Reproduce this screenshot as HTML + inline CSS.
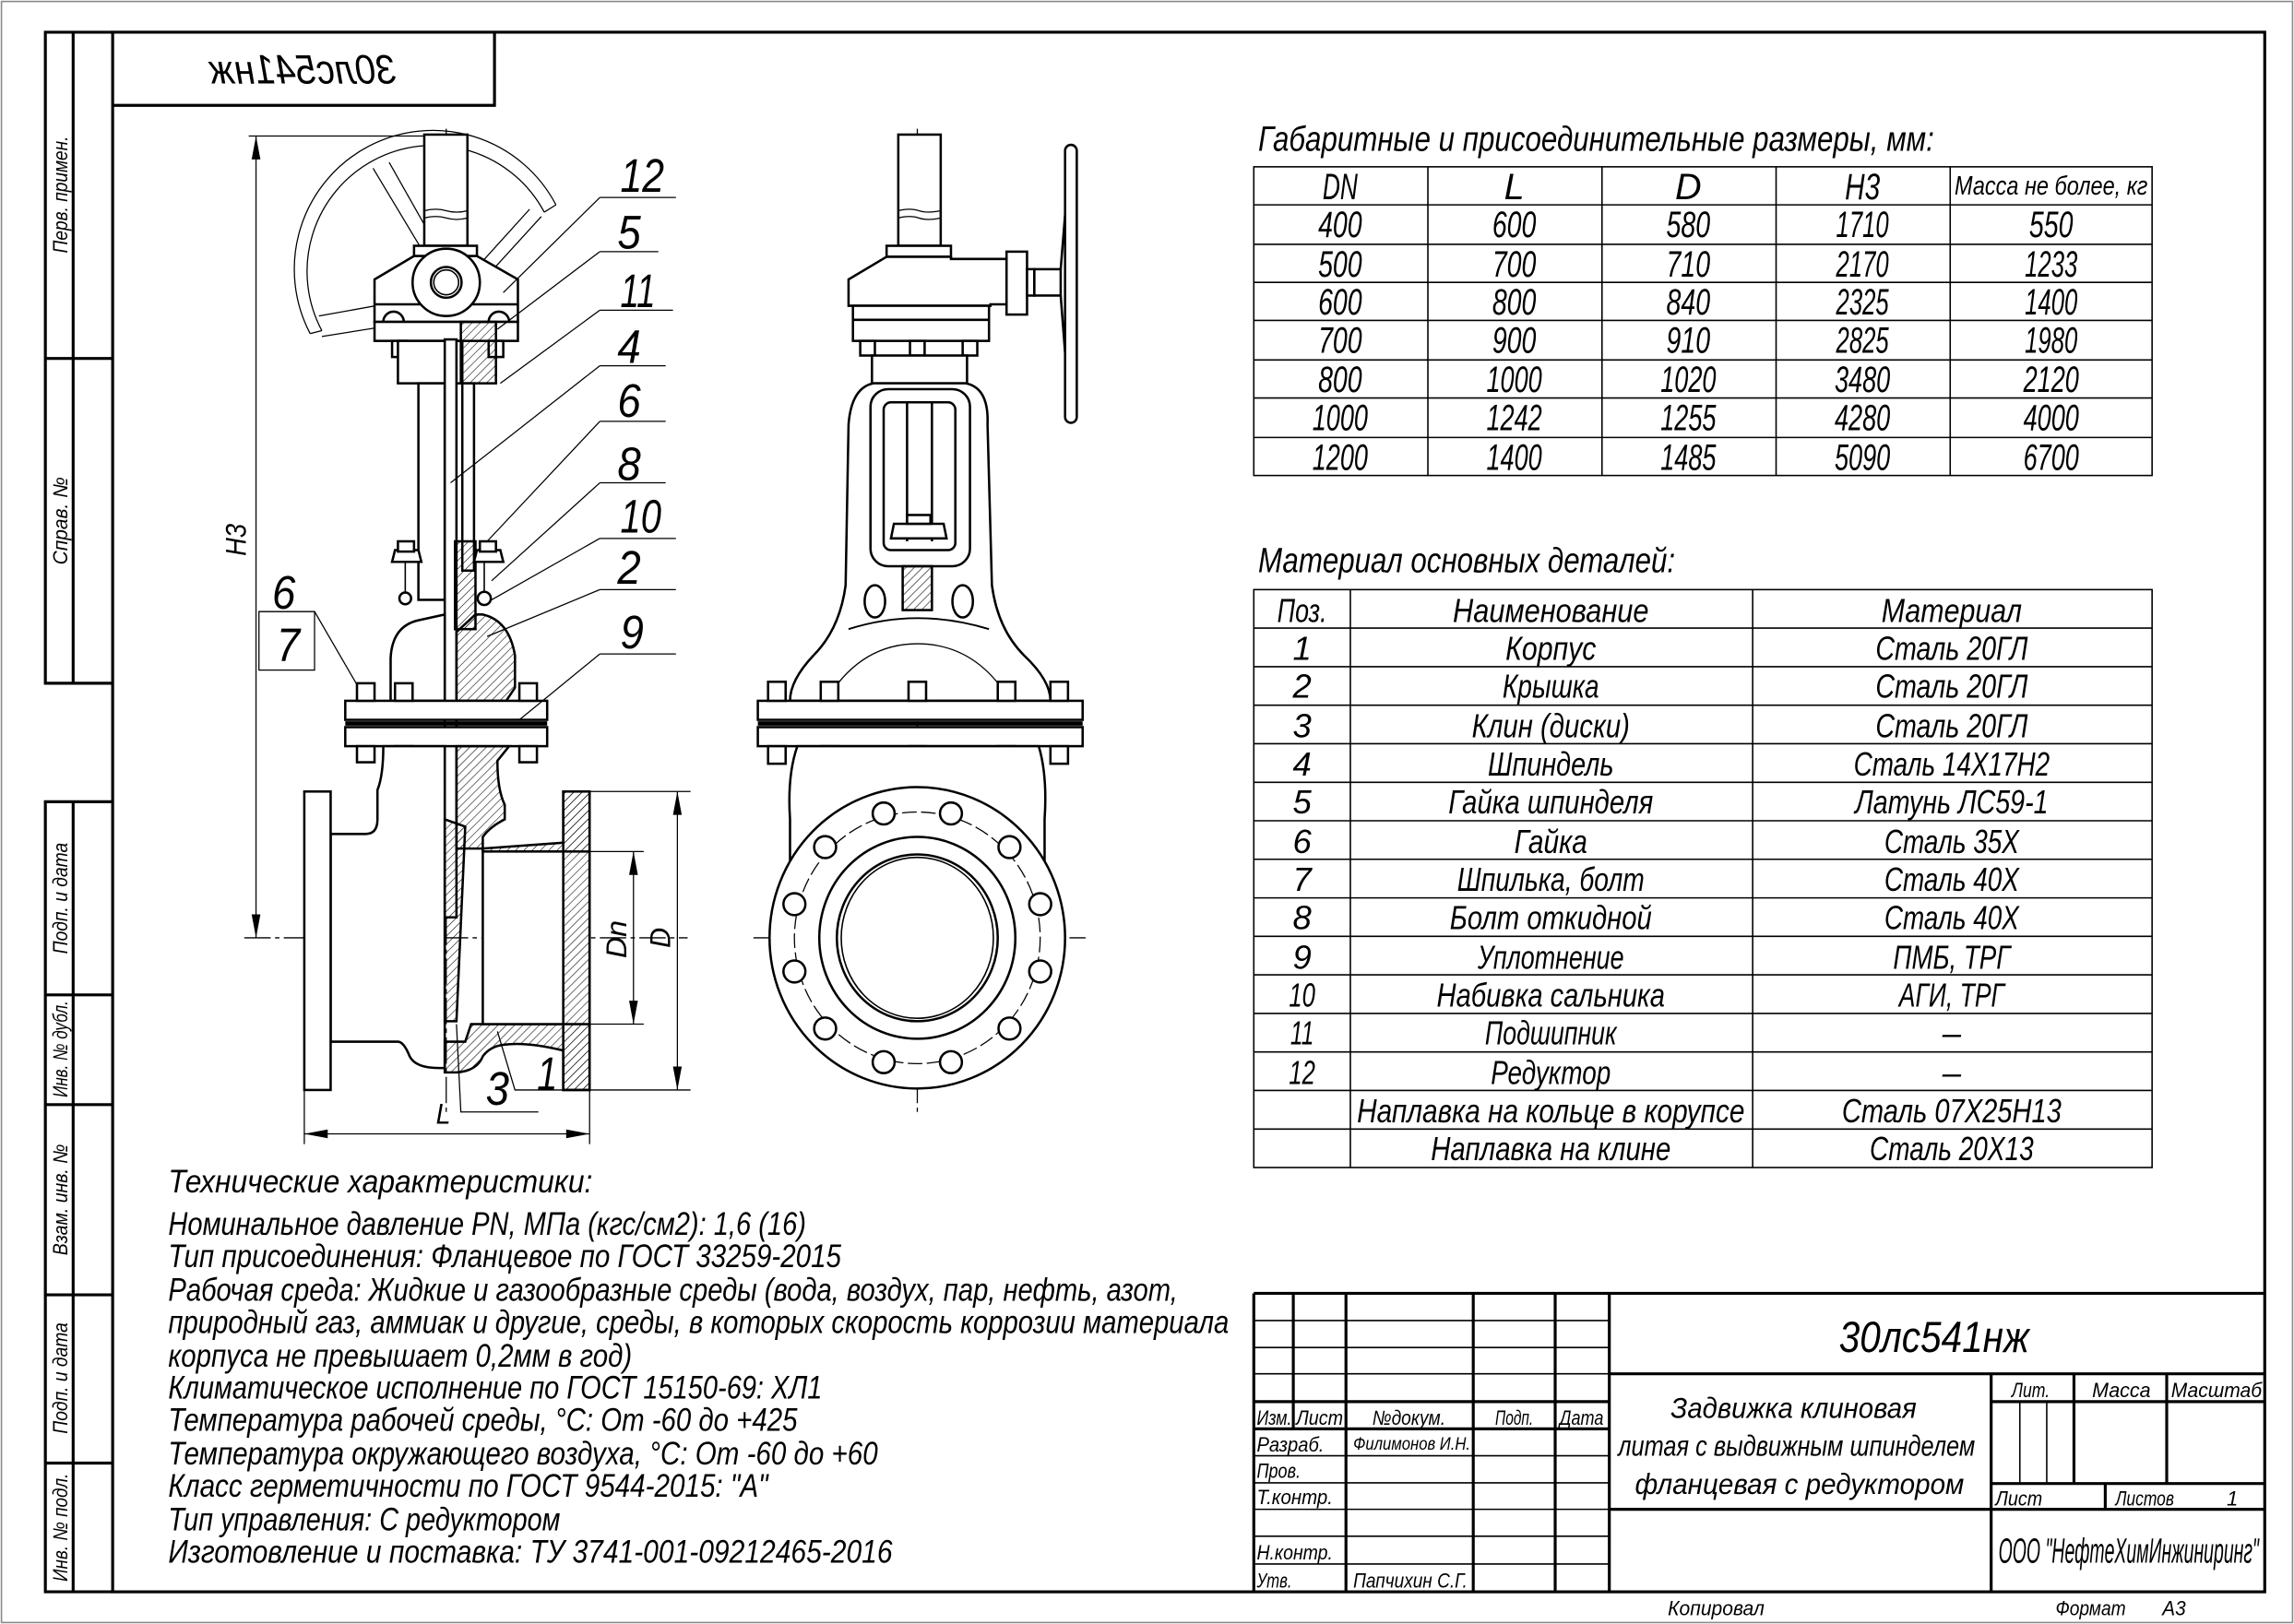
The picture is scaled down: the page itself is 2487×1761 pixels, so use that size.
<!DOCTYPE html>
<html><head><meta charset="utf-8"><style>html,body{margin:0;padding:0;background:#fff}svg{display:block}
text{font-family:"Liberation Sans Narrow","Liberation Sans","DejaVu Sans",sans-serif;font-style:italic;fill:#000}</style></head>
<body>
<svg width="2487" height="1761" viewBox="0 0 1568 1110" preserveAspectRatio="none" xmlns="http://www.w3.org/2000/svg">
<defs>
<pattern id="h" width="4" height="4" patternUnits="userSpaceOnUse" patternTransform="rotate(45)"><line x1="0" y1="0" x2="0" y2="4" stroke="#000" stroke-width="0.7"/></pattern>
<pattern id="h2" width="4" height="4" patternUnits="userSpaceOnUse" patternTransform="rotate(-45)"><line x1="0" y1="0" x2="0" y2="4" stroke="#000" stroke-width="0.7"/></pattern>
</defs>
<rect x="0" y="0" width="1568" height="1110" fill="#fff"/>
<rect x="1" y="1" width="1566" height="1108" fill="none" stroke="#888" stroke-width="1"/>
<!-- main frame -->
<g fill="none" stroke="#000" stroke-width="2">
<rect x="77" y="22" width="1471" height="1066"/>
<polyline points="77,22 31,22 31,467 77,467"/>
<line x1="50" y1="22" x2="50" y2="467"/>
<line x1="31" y1="245" x2="77" y2="245"/>
<polyline points="77,548 31,548 31,1088 77,1088"/>
<line x1="50" y1="548" x2="50" y2="1088"/>
<line x1="31" y1="680" x2="77" y2="680"/>
<line x1="31" y1="755" x2="77" y2="755"/>
<line x1="31" y1="885" x2="77" y2="885"/>
<line x1="31" y1="1000" x2="77" y2="1000"/>
<polyline points="77,72 338,72 338,22"/>
</g>
<g font-size="14">
<text transform="translate(46,133) rotate(-90)" text-anchor="middle" textLength="80" lengthAdjust="spacingAndGlyphs">Перв. примен.</text>
<text transform="translate(46,356) rotate(-90)" text-anchor="middle" textLength="60" lengthAdjust="spacingAndGlyphs">Справ. №</text>
<text transform="translate(46,614) rotate(-90)" text-anchor="middle" textLength="76" lengthAdjust="spacingAndGlyphs">Подп. и дата</text>
<text transform="translate(46,717) rotate(-90)" text-anchor="middle" textLength="66" lengthAdjust="spacingAndGlyphs">Инв. № дубл.</text>
<text transform="translate(46,820) rotate(-90)" text-anchor="middle" textLength="76" lengthAdjust="spacingAndGlyphs">Взам. инв. №</text>
<text transform="translate(46,942) rotate(-90)" text-anchor="middle" textLength="76" lengthAdjust="spacingAndGlyphs">Подп. и дата</text>
<text transform="translate(46,1044) rotate(-90)" text-anchor="middle" textLength="74" lengthAdjust="spacingAndGlyphs">Инв. № подл.</text>
</g>
<text transform="translate(414,0) scale(-1,1)" x="207" y="57" font-size="28" text-anchor="middle" textLength="128" lengthAdjust="spacingAndGlyphs">30лс541нж</text>

<!-- ===== LEFT VIEW ===== -->
<g fill="none" stroke="#000" stroke-width="0.8">
<!-- handwheel arcs -->
<path d="M212,228 A94,94 0 1 1 380,140"/>
<path d="M220,226 A84,84 0 1 1 372,145"/>
<line x1="212" y1="228" x2="220" y2="226"/><line x1="380" y1="140" x2="372" y2="145"/>
<line x1="218" y1="216" x2="290" y2="203"/><line x1="220" y1="230" x2="295" y2="218"/>
<line x1="255" y1="115" x2="300" y2="190"/><line x1="266" y1="111" x2="305" y2="180"/>
<line x1="362" y1="143" x2="315" y2="195"/><line x1="370" y1="148" x2="318" y2="205"/>
<!-- centerlines -->
<line x1="305" y1="88" x2="305" y2="760" stroke-dasharray="18,3,3,3"/>
<line x1="167" y1="641" x2="470" y2="641" stroke-dasharray="18,3,3,3"/>
<line x1="627" y1="88" x2="627" y2="760" stroke-dasharray="18,3,3,3"/>
<line x1="515" y1="641" x2="742" y2="641" stroke-dasharray="18,3,3,3"/>
</g>
<g fill="#fff" stroke="#000" stroke-width="1.6">
<rect x="290" y="92" width="29.5" height="76"/>
<path d="M290,144 q8,-2 15,0 t14.5,0 M290,149 q8,-2 15,0 t14.5,0" fill="none" stroke-width="0.8"/>
<rect x="283" y="168" width="43" height="7"/>
<path d="M283,175 L256,191 L256,220 L354,220 L354,191 L326,175 Z"/>
<line x1="256" y1="208" x2="354" y2="208"/>
<path d="M262,220 a7,7 0 0 1 14,0 M334,220 a7,7 0 0 1 14,0" fill="none"/>
<rect x="256" y="220" width="98" height="13"/>
<circle cx="305" cy="193" r="23"/>
<circle cx="305" cy="193" r="10.5"/>
<circle cx="305" cy="193" r="8.5" fill="none" stroke-width="1"/>
<rect x="268" y="233" width="10" height="11"/><rect x="334" y="233" width="10" height="11"/>
<rect x="272" y="233" width="44" height="29"/>
<rect x="315" y="220" width="24" height="42" fill="url(#h)"/>
<rect x="286" y="262" width="18" height="148"/>
<rect x="304" y="232" width="8" height="395"/>
<rect x="316" y="262" width="8" height="128"/>
<!-- gland -->
<rect x="311" y="370" width="14" height="60" fill="url(#h)"/>
<path d="M268,384 L270,376 L286,376 L288,384 Z"/><rect x="272" y="370" width="11" height="7"/>
<path d="M324,384 L326,376 L342,376 L344,384 Z"/><rect x="328" y="370" width="11" height="7"/>
<circle cx="277" cy="409" r="4"/><circle cx="331" cy="409" r="4.5"/>
<line x1="331" y1="384" x2="331" y2="405" stroke-width="1"/>
<line x1="277" y1="384" x2="277" y2="405" stroke-width="1"/>
<!-- bonnet -->
<path d="M267,479 L267,450 Q268,428 286,424 L304,420 L304,479 Z"/>
<path d="M312,432 L325,420 L330,420 Q348,424 352,448 L352,470 L346,479 L312,479 Z" fill="url(#h)"/>
<!-- flanges -->
<rect x="236" y="479" width="138" height="13"/>
<rect x="236" y="497" width="138" height="13"/>
<line x1="236" y1="494.5" x2="374" y2="494.5" stroke-width="3"/>
<rect x="244" y="467" width="12" height="12"/><rect x="270" y="467" width="12" height="12"/><rect x="355" y="467" width="12" height="12"/>
<rect x="244" y="510" width="12" height="11"/><rect x="270" y="510" width="12" height="11"/><rect x="355" y="510" width="12" height="11"/>
<!-- body lower left -->
<path d="M262,510 Q262,530 258,540 L258,560 Q258,570 250,570 L226,570 L226,712 L272,712 Q276,712 280,722 Q284,730 300,730 L304,730 L304,510 Z"/>
<rect x="208" y="541" width="18" height="204"/>
<!-- body right section -->
<path d="M312,510 L312,580 L330,580 L385,576 L385,541 L403,541 L403,745 L385,745 L385,718 Q360,712 345,714 Q335,715 330,722 Q326,732 312,733 L304,733 L304,712 L318,712 L322,700 L330,700 L385,700 L385,582 L330,582 L330,572 Q335,565 345,560 L345,550 Q340,540 340,520 L348,510 Z" fill="url(#h)"/>
<rect x="330" y="582" width="73" height="118" fill="#fff"/>
<rect x="385" y="541" width="18" height="204" fill="url(#h)"/>
<!-- wedge -->
<path d="M304,560 L318,565 L312,698 L304,698 Z" fill="url(#h)"/>
</g>
<!-- leaders left -->
<g fill="none" stroke="#000" stroke-width="0.8">
<line x1="410" y1="135" x2="462" y2="135"/><line x1="410" y1="135" x2="344" y2="200"/>
<line x1="410" y1="172" x2="450" y2="172"/><line x1="410" y1="172" x2="340" y2="225"/>
<line x1="410" y1="212" x2="460" y2="212"/><line x1="410" y1="212" x2="342" y2="262"/>
<line x1="410" y1="250" x2="455" y2="250"/><line x1="410" y1="250" x2="308" y2="330"/>
<line x1="410" y1="288" x2="455" y2="288"/><line x1="410" y1="288" x2="333" y2="370"/>
<line x1="410" y1="330" x2="455" y2="330"/><line x1="410" y1="330" x2="336" y2="397"/>
<line x1="410" y1="368" x2="462" y2="368"/><line x1="410" y1="368" x2="336" y2="410"/>
<line x1="410" y1="403" x2="462" y2="403"/><line x1="410" y1="403" x2="333" y2="435"/>
<line x1="410" y1="447" x2="462" y2="447"/><line x1="410" y1="447" x2="355" y2="492"/>
<polyline points="177,418 215,418 244,468"/><rect x="177" y="418" width="38" height="40"/>
<polyline points="312,700 315,760 368,760"/><polyline points="340,705 352,745 398,745"/>
<!-- dimensions -->
<line x1="170" y1="93" x2="290" y2="93"/><line x1="175" y1="93" x2="175" y2="641"/>
<line x1="403" y1="541" x2="472" y2="541"/><line x1="403" y1="745" x2="472" y2="745"/><line x1="463" y1="541" x2="463" y2="745"/>
<line x1="403" y1="582" x2="440" y2="582"/><line x1="403" y1="700" x2="440" y2="700"/><line x1="433" y1="582" x2="433" y2="700"/>
<line x1="208" y1="745" x2="208" y2="782"/><line x1="403" y1="745" x2="403" y2="782"/><line x1="208" y1="775" x2="403" y2="775"/>
</g>
<g fill="#000">
<path d="M175,93 l-3,16 h6 z M175,641 l-3,-16 h6 z"/>
<path d="M463,541 l-3,16 h6 z M463,745 l-3,-16 h6 z"/>
<path d="M433,582 l-3,16 h6 z M433,700 l-3,-16 h6 z"/>
<path d="M208,775 l16,-3 v6 z M403,775 l-16,-3 v6 z"/>
</g>
<g font-size="32">
<text x="424" y="131" textLength="30" lengthAdjust="spacingAndGlyphs">12</text>
<text x="422" y="170" textLength="16" lengthAdjust="spacingAndGlyphs">5</text>
<text x="424" y="210" textLength="24" lengthAdjust="spacingAndGlyphs">11</text>
<text x="422" y="248" textLength="16" lengthAdjust="spacingAndGlyphs">4</text>
<text x="422" y="285" textLength="16" lengthAdjust="spacingAndGlyphs">6</text>
<text x="422" y="328" textLength="16" lengthAdjust="spacingAndGlyphs">8</text>
<text x="424" y="364" textLength="28" lengthAdjust="spacingAndGlyphs">10</text>
<text x="422" y="399" textLength="16" lengthAdjust="spacingAndGlyphs">2</text>
<text x="424" y="443" textLength="16" lengthAdjust="spacingAndGlyphs">9</text>
<text x="186" y="416" textLength="16" lengthAdjust="spacingAndGlyphs">6</text>
<text x="189" y="452" textLength="16" lengthAdjust="spacingAndGlyphs">7</text>
<text x="332" y="755" textLength="16" lengthAdjust="spacingAndGlyphs">3</text>
<text x="367" y="745" textLength="14" lengthAdjust="spacingAndGlyphs">1</text>
</g>
<g font-size="20">
<text transform="translate(168,380) rotate(-90)" textLength="22" lengthAdjust="spacingAndGlyphs">H3</text>
<text transform="translate(428,655) rotate(-90)" textLength="26" lengthAdjust="spacingAndGlyphs">Dn</text>
<text transform="translate(458,648) rotate(-90)" textLength="14" lengthAdjust="spacingAndGlyphs">D</text>
<text x="298" y="768" textLength="10" lengthAdjust="spacingAndGlyphs">L</text>
</g>

<!-- ===== RIGHT VIEW ===== -->
<g fill="#fff" stroke="#000" stroke-width="1.6">
<rect x="614" y="92" width="29" height="76"/>
<path d="M614,144 q8,-2 14,0 t15,0 M614,149 q8,-2 14,0 t15,0" fill="none" stroke-width="0.8"/>
<rect x="606" y="168" width="44" height="7.5"/>
<path d="M606,175.5 L580,191 L580,209 L677,209 L677,208 L688,208 L688,177 L650,177 L650,175.5 Z"/>
<rect x="688" y="172" width="14" height="43"/>
<path d="M702,184 L707,184 L707,202 L702,202 Z"/>
<rect x="707" y="184" width="18" height="18"/>
<path d="M725,184 L731,110 M725,202 L731,280" fill="none"/>
<rect x="728" y="99" width="8" height="190" rx="4"/>
<path d="M587,218 a6,6 0 0 1 12,0 M622,218 a6,6 0 0 1 12,0 M658,218 a6,6 0 0 1 12,0" fill="none"/>
<rect x="583" y="209" width="93" height="24"/>
<line x1="583" y1="218.6" x2="676" y2="218.6"/>
<rect x="588" y="233" width="10" height="10"/><rect x="622" y="233" width="10" height="10"/><rect x="658" y="233" width="10" height="10"/>
<rect x="596" y="243" width="65" height="19"/>
<!-- yoke + bonnet -->
<path d="M597,262 L660,262 Q676,265 675,290 L678,400 Q682,430 700,448 Q718,465 718,479 L540,479 Q540,465 556,448 Q574,430 578,400 L580,290 Q582,265 597,262 Z"/>
<rect x="595" y="266" width="68" height="121" rx="12"/>
<rect x="604" y="275" width="49" height="101" rx="5"/>
<line x1="620" y1="275" x2="620" y2="370"/><line x1="637" y1="275" x2="637" y2="370"/>
<path d="M609,368 L611,358 L645,358 L647,368 Z"/><rect x="620" y="352" width="16" height="6"/>
<rect x="617" y="387" width="20" height="30" fill="url(#h)"/>
<ellipse cx="598" cy="411" rx="7" ry="11"/><ellipse cx="658" cy="411" rx="7" ry="11"/>
<path d="M580,430 Q627,415 676,430" fill="none" stroke-width="1.2"/>
<path d="M567,475 Q590,440 627,440 Q665,440 688,475" fill="none" stroke-width="0.8"/>
<!-- flanges -->
<rect x="518" y="479" width="222" height="13"/>
<rect x="518" y="497" width="222" height="13"/>
<line x1="518" y1="494.5" x2="740" y2="494.5" stroke-width="3"/>
<g>
<rect x="525" y="466" width="12" height="13"/><rect x="561" y="466" width="12" height="13"/><rect x="621" y="466" width="12" height="13"/><rect x="682" y="466" width="12" height="13"/><rect x="718" y="466" width="12" height="13"/>
<rect x="525" y="510" width="12" height="12"/><rect x="561" y="510" width="12" height="12"/><rect x="621" y="510" width="12" height="12"/><rect x="682" y="510" width="12" height="12"/><rect x="718" y="510" width="12" height="12"/>
</g>
<path d="M545,510 Q538,530 540,560 L540,600 L714,600 L714,560 Q716,530 710,510 Z"/>
<ellipse cx="627" cy="641" rx="101" ry="103"/>
<ellipse cx="627" cy="641" rx="67" ry="69"/>
<ellipse cx="627" cy="641" rx="55" ry="57"/>
<ellipse cx="627" cy="641" rx="52" ry="55" fill="none" stroke-width="1"/>
</g>
<ellipse cx="627" cy="641" rx="84" ry="86" fill="none" stroke="#000" stroke-width="0.8" stroke-dasharray="10,3"/>
<g fill="#fff" stroke="#000" stroke-width="1.6">
<circle cx="604" cy="556" r="7.5"/><circle cx="650" cy="556" r="7.5"/>
<circle cx="564" cy="579" r="7.5"/><circle cx="690" cy="579" r="7.5"/>
<circle cx="543" cy="618" r="7.5"/><circle cx="711" cy="618" r="7.5"/>
<circle cx="543" cy="664" r="7.5"/><circle cx="711" cy="664" r="7.5"/>
<circle cx="564" cy="703" r="7.5"/><circle cx="690" cy="703" r="7.5"/>
<circle cx="604" cy="726" r="7.5"/><circle cx="650" cy="726" r="7.5"/>
</g>

<!-- ===== TABLE 1 ===== -->
<text x="860" y="103" font-size="24" textLength="462" lengthAdjust="spacingAndGlyphs">Габаритные и присоединительные размеры, мм:</text>
<g fill="none" stroke="#000" stroke-width="1">
<rect x="857" y="114" width="614" height="211"/>
<line x1="976" y1="114" x2="976" y2="325"/><line x1="1095" y1="114" x2="1095" y2="325"/><line x1="1214" y1="114" x2="1214" y2="325"/><line x1="1333" y1="114" x2="1333" y2="325"/>
<line x1="857" y1="140" x2="1471" y2="140"/><line x1="857" y1="167" x2="1471" y2="167"/><line x1="857" y1="193" x2="1471" y2="193"/><line x1="857" y1="219" x2="1471" y2="219"/><line x1="857" y1="246" x2="1471" y2="246"/><line x1="857" y1="272" x2="1471" y2="272"/><line x1="857" y1="299" x2="1471" y2="299"/>
</g>
<g font-size="25" text-anchor="middle">
<text x="916" y="136" textLength="24" lengthAdjust="spacingAndGlyphs">DN</text><text x="1035" y="136">L</text><text x="1154" y="136">D</text><text x="1273" y="136" textLength="24" lengthAdjust="spacingAndGlyphs">H3</text>
<text x="1402" y="133" font-size="18" textLength="132" lengthAdjust="spacingAndGlyphs">Масса не более, кг</text>
</g>
<g font-size="25" text-anchor="middle" lengthAdjust="spacingAndGlyphs">
<text x="916" y="162" textLength="30" lengthAdjust="spacingAndGlyphs">400</text><text x="1035" y="162" textLength="30" lengthAdjust="spacingAndGlyphs">600</text><text x="1154" y="162" textLength="30" lengthAdjust="spacingAndGlyphs">580</text><text x="1273" y="162" textLength="36" lengthAdjust="spacingAndGlyphs">1710</text><text x="1402" y="162" textLength="30" lengthAdjust="spacingAndGlyphs">550</text>
<text x="916" y="189" textLength="30" lengthAdjust="spacingAndGlyphs">500</text><text x="1035" y="189" textLength="30" lengthAdjust="spacingAndGlyphs">700</text><text x="1154" y="189" textLength="30" lengthAdjust="spacingAndGlyphs">710</text><text x="1273" y="189" textLength="36" lengthAdjust="spacingAndGlyphs">2170</text><text x="1402" y="189" textLength="36" lengthAdjust="spacingAndGlyphs">1233</text>
<text x="916" y="215" textLength="30" lengthAdjust="spacingAndGlyphs">600</text><text x="1035" y="215" textLength="30" lengthAdjust="spacingAndGlyphs">800</text><text x="1154" y="215" textLength="30" lengthAdjust="spacingAndGlyphs">840</text><text x="1273" y="215" textLength="36" lengthAdjust="spacingAndGlyphs">2325</text><text x="1402" y="215" textLength="36" lengthAdjust="spacingAndGlyphs">1400</text>
<text x="916" y="241" textLength="30" lengthAdjust="spacingAndGlyphs">700</text><text x="1035" y="241" textLength="30" lengthAdjust="spacingAndGlyphs">900</text><text x="1154" y="241" textLength="30" lengthAdjust="spacingAndGlyphs">910</text><text x="1273" y="241" textLength="36" lengthAdjust="spacingAndGlyphs">2825</text><text x="1402" y="241" textLength="36" lengthAdjust="spacingAndGlyphs">1980</text>
<text x="916" y="268" textLength="30" lengthAdjust="spacingAndGlyphs">800</text><text x="1035" y="268" textLength="38" lengthAdjust="spacingAndGlyphs">1000</text><text x="1154" y="268" textLength="38" lengthAdjust="spacingAndGlyphs">1020</text><text x="1273" y="268" textLength="38" lengthAdjust="spacingAndGlyphs">3480</text><text x="1402" y="268" textLength="38" lengthAdjust="spacingAndGlyphs">2120</text>
<text x="916" y="294" textLength="38" lengthAdjust="spacingAndGlyphs">1000</text><text x="1035" y="294" textLength="38" lengthAdjust="spacingAndGlyphs">1242</text><text x="1154" y="294" textLength="38" lengthAdjust="spacingAndGlyphs">1255</text><text x="1273" y="294" textLength="38" lengthAdjust="spacingAndGlyphs">4280</text><text x="1402" y="294" textLength="38" lengthAdjust="spacingAndGlyphs">4000</text>
<text x="916" y="321" textLength="38" lengthAdjust="spacingAndGlyphs">1200</text><text x="1035" y="321" textLength="38" lengthAdjust="spacingAndGlyphs">1400</text><text x="1154" y="321" textLength="38" lengthAdjust="spacingAndGlyphs">1485</text><text x="1273" y="321" textLength="38" lengthAdjust="spacingAndGlyphs">5090</text><text x="1402" y="321" textLength="38" lengthAdjust="spacingAndGlyphs">6700</text>
</g>

<!-- ===== TABLE 2 ===== -->
<text x="860" y="391" font-size="24" textLength="285" lengthAdjust="spacingAndGlyphs">Материал основных деталей:</text>
<g fill="none" stroke="#000" stroke-width="1">
<rect x="857" y="403" width="614" height="395"/>
<line x1="923" y1="403" x2="923" y2="798"/><line x1="1198" y1="403" x2="1198" y2="798"/>
<line x1="857" y1="429.3" x2="1471" y2="429.3"/><line x1="857" y1="455.7" x2="1471" y2="455.7"/><line x1="857" y1="482" x2="1471" y2="482"/><line x1="857" y1="508.3" x2="1471" y2="508.3"/><line x1="857" y1="534.7" x2="1471" y2="534.7"/><line x1="857" y1="561" x2="1471" y2="561"/><line x1="857" y1="587.3" x2="1471" y2="587.3"/><line x1="857" y1="613.7" x2="1471" y2="613.7"/><line x1="857" y1="640" x2="1471" y2="640"/><line x1="857" y1="666.3" x2="1471" y2="666.3"/><line x1="857" y1="692.7" x2="1471" y2="692.7"/><line x1="857" y1="719" x2="1471" y2="719"/><line x1="857" y1="745.3" x2="1471" y2="745.3"/><line x1="857" y1="771.7" x2="1471" y2="771.7"/>
</g>
<g font-size="23" text-anchor="middle">
<text x="890" y="425" textLength="34" lengthAdjust="spacingAndGlyphs">Поз.</text><text x="1060" y="425" textLength="134" lengthAdjust="spacingAndGlyphs">Наименование</text><text x="1334" y="425" textLength="96" lengthAdjust="spacingAndGlyphs">Материал</text>
<text x="890" y="451">1</text><text x="1060" y="451" textLength="62" lengthAdjust="spacingAndGlyphs">Корпус</text><text x="1334" y="451" textLength="104" lengthAdjust="spacingAndGlyphs">Сталь 20ГЛ</text>
<text x="890" y="477">2</text><text x="1060" y="477" textLength="66" lengthAdjust="spacingAndGlyphs">Крышка</text><text x="1334" y="477" textLength="104" lengthAdjust="spacingAndGlyphs">Сталь 20ГЛ</text>
<text x="890" y="504">3</text><text x="1060" y="504" textLength="108" lengthAdjust="spacingAndGlyphs">Клин (диски)</text><text x="1334" y="504" textLength="104" lengthAdjust="spacingAndGlyphs">Сталь 20ГЛ</text>
<text x="890" y="530">4</text><text x="1060" y="530" textLength="86" lengthAdjust="spacingAndGlyphs">Шпиндель</text><text x="1334" y="530" textLength="134" lengthAdjust="spacingAndGlyphs">Сталь 14Х17Н2</text>
<text x="890" y="556">5</text><text x="1060" y="556" textLength="140" lengthAdjust="spacingAndGlyphs">Гайка шпинделя</text><text x="1334" y="556" textLength="132" lengthAdjust="spacingAndGlyphs">Латунь ЛС59-1</text>
<text x="890" y="583">6</text><text x="1060" y="583" textLength="50" lengthAdjust="spacingAndGlyphs">Гайка</text><text x="1334" y="583" textLength="92" lengthAdjust="spacingAndGlyphs">Сталь 35Х</text>
<text x="890" y="609">7</text><text x="1060" y="609" textLength="128" lengthAdjust="spacingAndGlyphs">Шпилька, болт</text><text x="1334" y="609" textLength="92" lengthAdjust="spacingAndGlyphs">Сталь 40Х</text>
<text x="890" y="635">8</text><text x="1060" y="635" textLength="138" lengthAdjust="spacingAndGlyphs">Болт откидной</text><text x="1334" y="635" textLength="92" lengthAdjust="spacingAndGlyphs">Сталь 40Х</text>
<text x="890" y="662">9</text><text x="1060" y="662" textLength="100" lengthAdjust="spacingAndGlyphs">Уплотнение</text><text x="1334" y="662" textLength="80" lengthAdjust="spacingAndGlyphs">ПМБ, ТРГ</text>
<text x="890" y="688" textLength="18" lengthAdjust="spacingAndGlyphs">10</text><text x="1060" y="688" textLength="156" lengthAdjust="spacingAndGlyphs">Набивка сальника</text><text x="1334" y="688" textLength="72" lengthAdjust="spacingAndGlyphs">АГИ, ТРГ</text>
<text x="890" y="714" textLength="16" lengthAdjust="spacingAndGlyphs">11</text><text x="1060" y="714" textLength="90" lengthAdjust="spacingAndGlyphs">Подшипник</text><text x="1334" y="714">–</text>
<text x="890" y="741" textLength="18" lengthAdjust="spacingAndGlyphs">12</text><text x="1060" y="741" textLength="82" lengthAdjust="spacingAndGlyphs">Редуктор</text><text x="1334" y="741">–</text>
<text x="1060" y="767" textLength="265" lengthAdjust="spacingAndGlyphs">Наплавка на кольце в корупсе</text><text x="1334" y="767" textLength="150" lengthAdjust="spacingAndGlyphs">Сталь 07Х25Н13</text>
<text x="1060" y="793" textLength="164" lengthAdjust="spacingAndGlyphs">Наплавка на клине</text><text x="1334" y="793" textLength="112" lengthAdjust="spacingAndGlyphs">Сталь 20Х13</text>
</g>

<!-- ===== TECH TEXT ===== -->
<g font-size="22">
<text x="115" y="815" textLength="290" lengthAdjust="spacingAndGlyphs">Технические характеристики:</text>
<text x="115" y="844" textLength="436" lengthAdjust="spacingAndGlyphs">Номинальное давление PN, МПа (кгс/см2): 1,6 (16)</text>
<text x="115" y="866" textLength="460" lengthAdjust="spacingAndGlyphs">Тип присоединения: Фланцевое по ГОСТ 33259-2015</text>
<text x="115" y="889" textLength="690" lengthAdjust="spacingAndGlyphs">Рабочая среда: Жидкие и газообразные среды (вода, воздух, пар, нефть, азот,</text>
<text x="115" y="911" textLength="725" lengthAdjust="spacingAndGlyphs">природный газ, аммиак и другие, среды, в которых скорость коррозии материала</text>
<text x="115" y="934" textLength="317" lengthAdjust="spacingAndGlyphs">корпуса не превышает 0,2мм в год)</text>
<text x="115" y="956" textLength="447" lengthAdjust="spacingAndGlyphs">Климатическое исполнение по ГОСТ 15150-69: ХЛ1</text>
<text x="115" y="978" textLength="430" lengthAdjust="spacingAndGlyphs">Температура рабочей среды, °С: От -60 до +425</text>
<text x="115" y="1001" textLength="485" lengthAdjust="spacingAndGlyphs">Температура окружающего воздуха, °С: От -60 до +60</text>
<text x="115" y="1023" textLength="410" lengthAdjust="spacingAndGlyphs">Класс герметичности по ГОСТ 9544-2015: "А"</text>
<text x="115" y="1046" textLength="268" lengthAdjust="spacingAndGlyphs">Тип управления: С редуктором</text>
<text x="115" y="1068" textLength="495" lengthAdjust="spacingAndGlyphs">Изготовление и поставка: ТУ 3741-001-09212465-2016</text>
</g>

<!-- ===== TITLE BLOCK ===== -->
<g fill="none" stroke="#000">
<g stroke-width="2">
<line x1="857" y1="884" x2="1548" y2="884"/>
<line x1="857" y1="884" x2="857" y2="1088"/>
<line x1="884" y1="884" x2="884" y2="976.6"/>
<line x1="920" y1="884" x2="920" y2="1088"/>
<line x1="1007" y1="884" x2="1007" y2="1088"/>
<line x1="1063" y1="884" x2="1063" y2="1088"/>
<line x1="1100" y1="884" x2="1100" y2="1088"/>
<line x1="857" y1="958" x2="1100" y2="958"/>
<line x1="857" y1="976.6" x2="1100" y2="976.6"/>
<line x1="1100" y1="939" x2="1548" y2="939"/>
<line x1="1100" y1="1031.6" x2="1548" y2="1031.6"/>
<line x1="1361" y1="939" x2="1361" y2="1088"/>
<line x1="1417.6" y1="939" x2="1417.6" y2="1014"/>
<line x1="1481" y1="939" x2="1481" y2="1014"/>
<line x1="1361" y1="958" x2="1548" y2="958"/>
<line x1="1361" y1="1014" x2="1548" y2="1014"/>
<line x1="1439" y1="1014" x2="1439" y2="1031.6"/>
</g>
<g stroke-width="1">
<line x1="857" y1="902.6" x2="1100" y2="902.6"/>
<line x1="857" y1="921" x2="1100" y2="921"/>
<line x1="857" y1="939" x2="1100" y2="939"/>
<line x1="857" y1="995" x2="1100" y2="995"/>
<line x1="857" y1="1013.5" x2="1100" y2="1013.5"/>
<line x1="857" y1="1031.6" x2="1100" y2="1031.6"/>
<line x1="857" y1="1050" x2="1100" y2="1050"/>
<line x1="857" y1="1069" x2="1100" y2="1069"/>
<line x1="1380.6" y1="958" x2="1380.6" y2="1014"/>
<line x1="1399" y1="958" x2="1399" y2="1014"/>
</g>
</g>
<text x="1322" y="924" font-size="30" text-anchor="middle" textLength="130" lengthAdjust="spacingAndGlyphs">30лс541нж</text>
<g font-size="14">
<text x="859" y="974" textLength="24" lengthAdjust="spacingAndGlyphs">Изм.</text>
<text x="886" y="974" textLength="32" lengthAdjust="spacingAndGlyphs">Лист</text>
<text x="938" y="974" textLength="50" lengthAdjust="spacingAndGlyphs">№докум.</text>
<text x="1022" y="974" textLength="26" lengthAdjust="spacingAndGlyphs">Подп.</text>
<text x="1066" y="974" textLength="30" lengthAdjust="spacingAndGlyphs">Дата</text>
<text x="859" y="992" textLength="46" lengthAdjust="spacingAndGlyphs">Разраб.</text>
<text x="925" y="991" font-size="12" textLength="80" lengthAdjust="spacingAndGlyphs">Филимонов И.Н.</text>
<text x="859" y="1010" textLength="30" lengthAdjust="spacingAndGlyphs">Пров.</text>
<text x="859" y="1028" textLength="52" lengthAdjust="spacingAndGlyphs">Т.контр.</text>
<text x="859" y="1066" textLength="52" lengthAdjust="spacingAndGlyphs">Н.контр.</text>
<text x="859" y="1085" textLength="24" lengthAdjust="spacingAndGlyphs">Утв.</text>
<text x="925" y="1085" textLength="78" lengthAdjust="spacingAndGlyphs">Папчихин С.Г.</text>
<text x="1375" y="955" textLength="26" lengthAdjust="spacingAndGlyphs">Лит.</text>
<text x="1430" y="955" textLength="40" lengthAdjust="spacingAndGlyphs">Масса</text>
<text x="1484" y="955" textLength="62" lengthAdjust="spacingAndGlyphs">Масштаб</text>
<text x="1364" y="1029" textLength="32" lengthAdjust="spacingAndGlyphs">Лист</text>
<text x="1446" y="1029" textLength="40" lengthAdjust="spacingAndGlyphs">Листов</text>
<text x="1522" y="1029">1</text>
<text x="1140" y="1104" textLength="66" lengthAdjust="spacingAndGlyphs">Копировал</text>
<text x="1405" y="1104" textLength="48" lengthAdjust="spacingAndGlyphs">Формат</text>
<text x="1478" y="1104" textLength="16" lengthAdjust="spacingAndGlyphs">А3</text>
</g>
<g font-size="20" text-anchor="middle">
<text x="1226" y="969" textLength="168" lengthAdjust="spacingAndGlyphs">Задвижка клиновая</text>
<text x="1228" y="995" textLength="244" lengthAdjust="spacingAndGlyphs">литая с выдвижным шпинделем</text>
<text x="1230" y="1021" textLength="225" lengthAdjust="spacingAndGlyphs">фланцевая с редуктором</text>
</g>
<text x="1455" y="1068" font-size="24" text-anchor="middle" textLength="178" lengthAdjust="spacingAndGlyphs">ООО "НефтеХимИнжиниринг"</text>
</svg>
</body></html>
